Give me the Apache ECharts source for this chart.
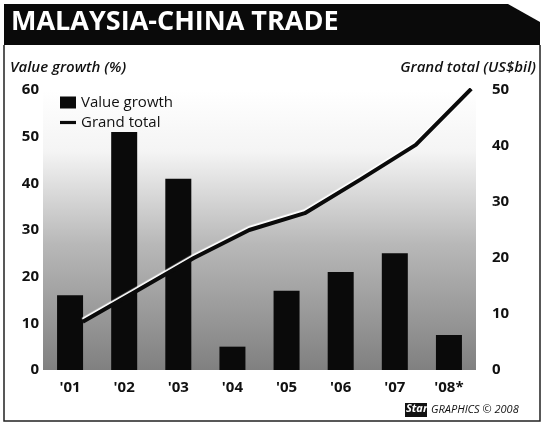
<!DOCTYPE html>
<html>
<head>
<meta charset="utf-8">
<script src="https://cdn.jsdelivr.net/npm/echarts@6/dist/echarts.min.js"></script>
<style>
html,body{margin:0;padding:0;background:#fff;}
#c{width:544px;height:425px;}
</style>
</head>
<body>
<div id="c"></div>
<script>
const categories = ["'01", "'02", "'03", "'04", "'05", "'06", "'07", "'08*"];
const valueGrowth = [16, 51, 41, 5, 17, 21, 25, 7.5];
const grandTotal = [8.6, 14.3, 20.0, 25.0, 28.0, 34.0, 40.2, 50.2];
const leftTicks = [0, 10, 20, 30, 40, 50, 60];
const rightTicks = [0, 10, 20, 30, 40, 50];

const chart = echarts.init(document.getElementById('c'));
const F = '"Open Sans", "Noto Sans", sans-serif';
const labelStyle = {color: '#111', fontSize: 15, fontWeight: 'bold', fontFamily: F};

chart.setOption({
  animation: false,
  backgroundColor: '#fff',
  graphic: [
    {type: 'polygon', shape: {points: [[4,4],[508,4],[540,22],[540,45],[4,45]]}, style: {fill: '#0a0a0a'}},
    {type: 'polyline', shape: {points: [[4,45],[4,421],[540,421],[540,45]]}, style: {stroke: '#222', lineWidth: 1.5, fill: null}},
    {type: 'text', left: 11, top: 9, style: {text: 'MALAYSIA-CHINA TRADE', fill: '#fff', font: 'bold 27px "Open Sans", sans-serif'}},
    {type: 'text', left: 10, top: 60, style: {text: 'Value growth (%)', fill: '#111', font: 'italic 600 15px "Open Sans", sans-serif'}},
    {type: 'text', right: 8, top: 60, style: {text: 'Grand total (US$bil)', fill: '#111', font: 'italic 600 15px "Open Sans", sans-serif'}},
    {type: 'rect', shape: {x: 405, y: 403, width: 22, height: 14}, style: {fill: '#111'}},
    {type: 'text', left: 406, top: 403, style: {text: 'Star', fill: '#fff', font: 'italic bold 11px "Open Sans", sans-serif'}},
    {type: 'text', left: 431, top: 404, style: {text: 'GRAPHICS © 2008', fill: '#111', font: 'italic 11px "Open Sans", sans-serif'}}
  ],
  legend: {
    orient: 'vertical', left: 55, top: 90, itemGap: 5, itemWidth: 16, itemHeight: 12,
    textStyle: {color: '#111', fontSize: 15, fontFamily: F},
    data: [
      {name: 'Value growth', icon: 'rect'},
      {name: 'Grand total', icon: 'path://M0,5 L20,5 L20,9 L0,9 Z'}
    ]
  },
  grid: [
    {left: 43, right: 68, top: 90, bottom: 55, show: true, borderWidth: 0,
     backgroundColor: {type: 'linear', x: 0, y: 0, x2: 0, y2: 1, colorStops: [
       {offset: 0, color: '#ffffff'}, {offset: 0.22, color: '#f4f4f4'},
       {offset: 0.55, color: '#b8b8b8'}, {offset: 1, color: '#808080'}]}},
    {left: 55, right: 45, top: 90, bottom: 55}
  ],
  xAxis: [
    {type: 'category', gridIndex: 0, data: categories, axisLine: {show: false}, axisTick: {show: false},
     axisLabel: Object.assign({margin: 10}, labelStyle)},
    {type: 'category', gridIndex: 1, data: categories, show: false}
  ],
  yAxis: [
    {type: 'value', gridIndex: 0, min: 0, max: 60, interval: 10, position: 'left',
     axisLine: {show: false}, axisTick: {show: false}, splitLine: {show: false},
     axisLabel: Object.assign({margin: 4}, labelStyle)},
    {type: 'value', gridIndex: 1, min: 0, max: 50, interval: 10, position: 'right', offset: -7,
     axisLine: {show: false}, axisTick: {show: false}, splitLine: {show: false},
     axisLabel: Object.assign({margin: 0}, labelStyle)}
  ],
  series: [
    {name: 'Value growth', type: 'bar', xAxisIndex: 0, yAxisIndex: 0, data: valueGrowth,
     barWidth: 26, itemStyle: {color: '#0a0a0a'}},
    {name: 'Grand total', type: 'line', xAxisIndex: 1, yAxisIndex: 1, data: grandTotal,
     symbol: 'none', lineStyle: {color: '#0a0a0a', width: 4, shadowColor: '#fff', shadowBlur: 1, shadowOffsetY: -2},
     itemStyle: {color: '#0a0a0a'}, z: 3}
  ]
});
</script>
</body>
</html>
